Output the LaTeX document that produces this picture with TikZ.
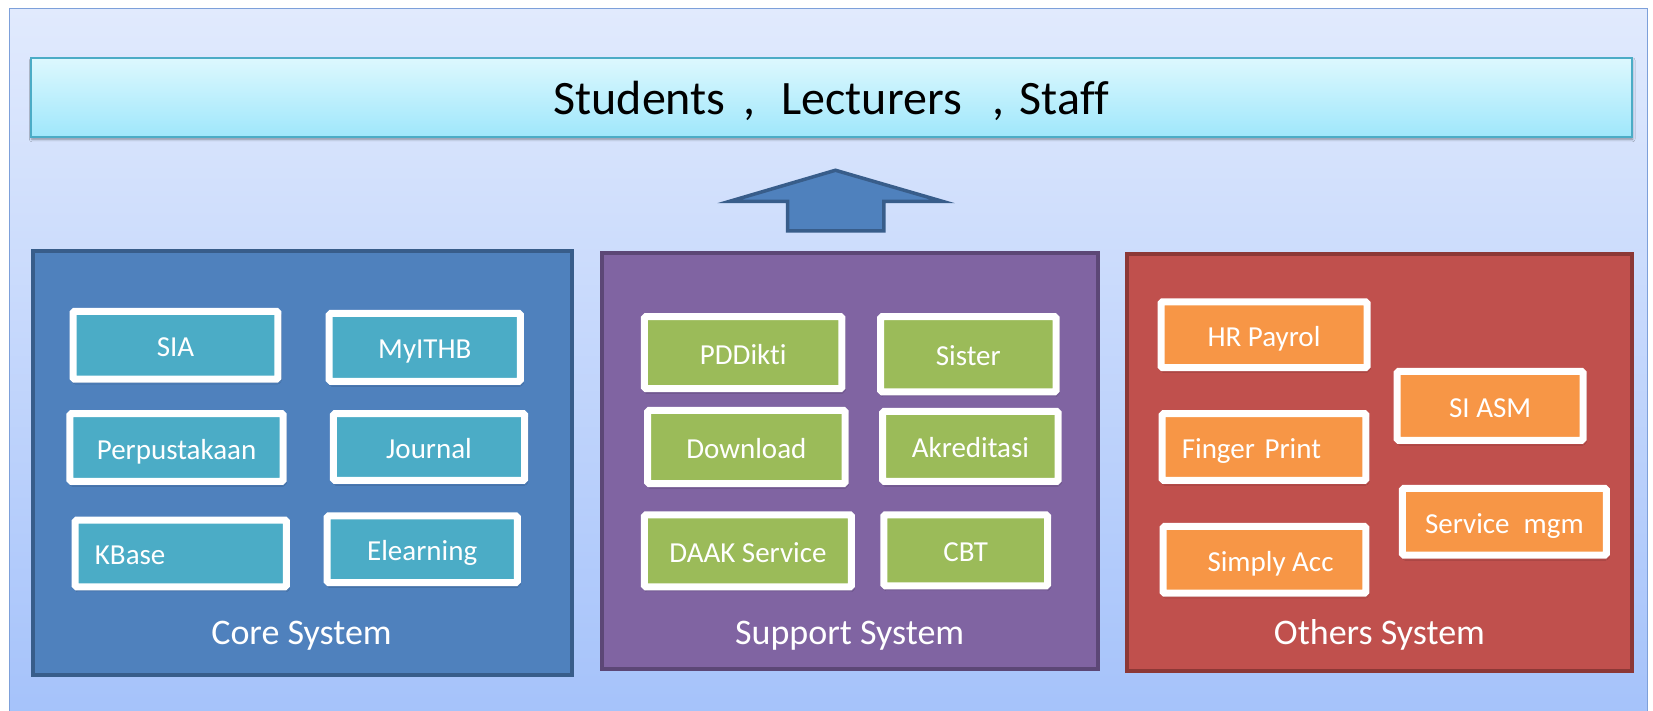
\documentclass[tikz,border=0pt]{standalone}
\usepackage{fontspec}
\setmainfont{Carlito}[Ligatures=NoCommon]
\usetikzlibrary{shadows.blur}
\definecolor{frameTop}{HTML}{E1EAFD}
\definecolor{frameBot}{HTML}{A3C1FA}
\definecolor{frameLine}{HTML}{7DA0DA}
\definecolor{banTop}{HTML}{DDF8FE}
\definecolor{banBot}{HTML}{9FE7FB}
\definecolor{banLine}{HTML}{4BACC6}
\definecolor{coreF}{HTML}{4F81BD}
\definecolor{coreB}{HTML}{385D8A}
\definecolor{supF}{HTML}{8064A2}
\definecolor{supB}{HTML}{5C4776}
\definecolor{othF}{HTML}{C0504D}
\definecolor{othB}{HTML}{8C3836}
\definecolor{coreI}{HTML}{4BACC6}
\definecolor{supI}{HTML}{9BBB59}
\definecolor{othI}{HTML}{F79646}
\begin{document}
\begin{tikzpicture}[x=1.0542pt,y=-1.0542pt,
  ibox/.style={draw=white, line width=7pt, rounded corners=1.5pt, text=white,
    font=\fontsize{29}{35}\selectfont, inner sep=0pt, text height=26pt, text depth=3pt,
    blur shadow={shadow xshift=1pt, shadow yshift=-2.5pt, shadow blur radius=2.5pt, shadow opacity=45}},
  corei/.style={ibox, fill=coreI},
  supi/.style={ibox, fill=supI},
  othi/.style={ibox, fill=othI},
  leftin/.style={align=left, inner xsep=19.7pt},
  sysbox/.style={line width=4pt, inner sep=0pt},
  syslbl/.style={text=white, font=\fontsize{36}{43}\selectfont, inner sep=0pt, anchor=base},
]
\useasboundingbox (0,0) rectangle (1568,674);
% outer frame
\shade[top color=frameTop, bottom color=frameBot] (9,8) rectangle (1563,700);
\draw[frameLine, line width=1.5pt] (9,700) -- (9,8) -- (1563,8) -- (1563,700);
% banner
\node[draw=banLine, line width=2pt, top color=banTop, bottom color=banBot,
  minimum width=1600.6pt, minimum height=79pt, inner sep=0pt,
  text height=36.5pt, text depth=2.4pt, font=\fontsize{48}{58}\selectfont,
  blur shadow={shadow xshift=1pt, shadow yshift=-2.5pt, shadow blur radius=2.5pt, shadow opacity=40}]
  (users) at (788.5,92.3) {Students\hspace{18pt},\hspace{26pt}Lecturers\hspace{31pt},\hspace{15pt}Staff};
% arrow
\draw[fill=coreF, draw=coreB, line width=3.5pt, line join=miter]
  (747,219) -- (747,191) -- (692,191) -- (792.5,161.5) -- (894,191) -- (838.5,191) -- (838.5,219) -- cycle;
% containers
\node[sysbox, draw=coreB, fill=coreF, minimum width=538.9pt, minimum height=424pt] (core) at (286.75,439.5) {};
\node[sysbox, draw=supB, fill=supF, minimum width=495.7pt, minimum height=416.5pt] (support) at (806,437.5) {};
\node[sysbox, draw=othB, fill=othF, minimum width=505.2pt, minimum height=416.5pt] (others) at (1308.5,438.5) {};
\node[syslbl] (coreL) at (286,611.8) {Core System};
\node[syslbl] (supL) at (806,611.8) {Support System};
\node[syslbl] (othL) at (1308.5,611.8) {Others System};
% core items
\node[corei, minimum width=204.9pt, minimum height=67.8pt] (sia) at (166.5,327.5) {SIA};
\node[corei, minimum width=191.2pt, minimum height=67.8pt] (myithb) at (403,329.5) {MyITHB};
\node[corei, minimum width=213.3pt, minimum height=67.8pt] (perpus) at (167.5,424.5) {Perpustakaan};
\node[corei, minimum width=191.2pt, minimum height=66.8pt] (journal) at (407,424) {Journal};
\node[corei, leftin, text width=171.8pt, minimum width=211.2pt, minimum height=66.8pt] (kbase) at (171.5,525) {KBase};
\node[corei, minimum width=190.1pt, minimum height=66.8pt] (elearn) at (400.5,521) {Elearning};
% support items
\node[supi, minimum width=197.5pt, minimum height=72.1pt] (pddikti) at (705,334.5) {PDDikti};
\node[supi, minimum width=175.4pt, minimum height=75.2pt] (sister) at (918.5,336) {Sister};
\node[supi, minimum width=197.5pt, minimum height=73.1pt] (download) at (708,424) {Download};
\node[supi, minimum width=175.4pt, minimum height=70pt] (akred) at (920.5,423.5) {Akreditasi};
\node[supi, minimum width=207pt, minimum height=72.1pt] (daak) at (709.5,522.5) {DAAK Service};
\node[supi, minimum width=163.8pt, minimum height=71pt] (cbt) at (916,522) {CBT};
% others items
\node[othi, minimum width=206pt, minimum height=65.7pt] (hr) at (1199,317.5) {HR Payrol};
\node[othi, minimum width=185.9pt, minimum height=68.9pt] (siasm) at (1413.5,385) {SI ASM};
\node[othi, leftin, text width=164.4pt, minimum width=203.8pt, minimum height=66.8pt] (finger) at (1199,424) {Finger Print};
\node[othi, minimum width=203.8pt, minimum height=66.8pt] (svc) at (1427,495) {Service\hspace{14pt}mgm};
\node[othi, minimum width=202.8pt, minimum height=66.8pt] (simply) at (1199.5,531) {\hspace{12pt}Simply Acc};
\end{tikzpicture}
\end{document}
